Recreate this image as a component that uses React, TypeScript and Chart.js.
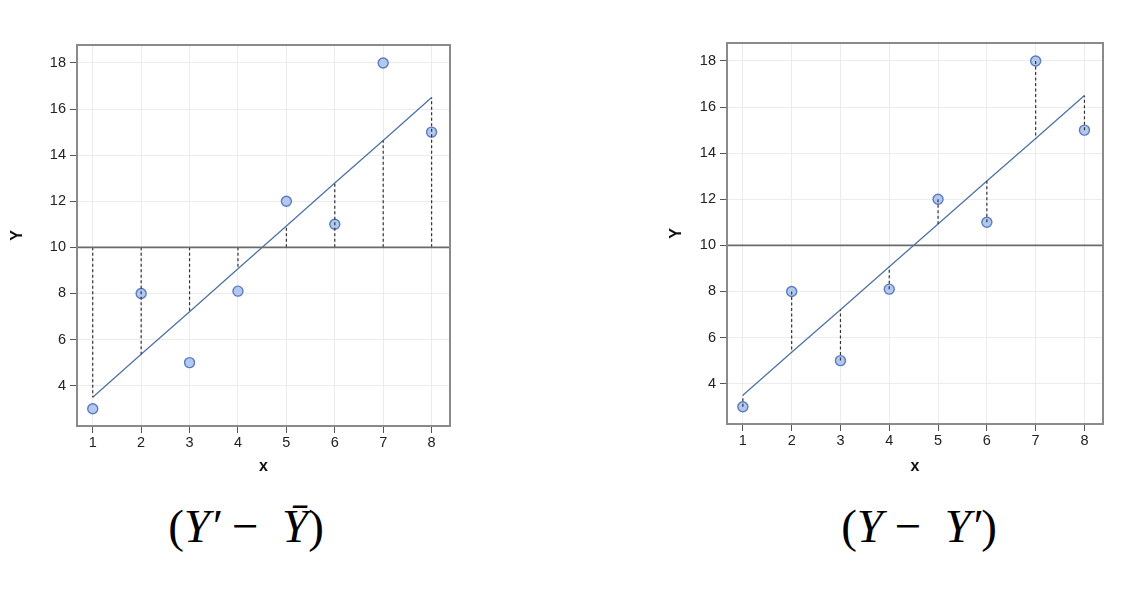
import React, { useEffect, useRef } from "react";
import { Chart, registerables } from "chart.js";

Chart.register(...registerables);

const xValues = [1, 2, 3, 4, 5, 6, 7, 8];
const yValues = [3, 8, 5, 8.1, 12, 11, 18, 15];
const fittedValues = [3.5, 5.36, 7.21, 9.07, 10.93, 12.79, 14.64, 16.5];
const meanY = 10;
const yTicks = [4, 6, 8, 10, 12, 14, 16, 18];
const leftFormula = ["(", "Y\u2032", " \u2212  ", "Y\u0304", ")"];
const rightFormula = ["(", "Y", " \u2212  ", "Y\u2032", ")"];

const X_MIN = 0.675;
const X_MAX = 8.38;
const Y_MIN = 2.25;
const Y_MAX = 18.78;

type Layout = {
  left: number;
  top: number;
  width: number;
  height: number;
  axisW: number;
  axisH: number;
  padTop: number;
  padRight: number;
  titlePad: number;
};

const frameBox = {
  id: "frameBox",
  afterDatasetsDraw(chart: any) {
    const { ctx, chartArea } = chart;
    ctx.save();
    ctx.strokeStyle = "#8a8a8a";
    ctx.lineWidth = 2;
    ctx.strokeRect(chartArea.left, chartArea.top, chartArea.right - chartArea.left, chartArea.bottom - chartArea.top);
    ctx.restore();
  },
};

const tickFont = { family: "Liberation Sans, Arial", size: 14.5 };

function Panel({ mode, layout }: { mode: "mean" | "resid"; layout: Layout }) {
  const ref = useRef<HTMLCanvasElement | null>(null);
  useEffect(() => {
    if (!ref.current) return;
    const dashData: any[] = [];
    xValues.forEach((x, i) => {
      if (mode === "mean") {
        dashData.push({ x, y: meanY }, { x, y: fittedValues[i] });
      } else {
        dashData.push({ x, y: yValues[i] }, { x, y: fittedValues[i] });
      }
      dashData.push({ x, y: null });
    });
    const chart = new Chart(ref.current, {
      type: "scatter",
      data: {
        datasets: [
          {
            type: "line",
            data: [
              { x: X_MIN, y: meanY },
              { x: X_MAX, y: meanY },
            ],
            borderColor: "#6b6b6b",
            borderWidth: 1.6,
            pointRadius: 0,
            fill: false,
          } as any,
          {
            type: "line",
            data: dashData,
            borderColor: "#333",
            borderWidth: 1.2,
            borderDash: [3, 2.5],
            pointRadius: 0,
            spanGaps: false,
            fill: false,
          } as any,
          {
            type: "line",
            data: xValues.map((x, i) => ({ x, y: fittedValues[i] })),
            borderColor: "#4f73a6",
            borderWidth: 1.3,
            pointRadius: 0,
            fill: false,
          } as any,
          {
            type: "scatter",
            data: xValues.map((x, i) => ({ x, y: yValues[i] })),
            backgroundColor: "#b3c8ef",
            borderColor: "#5a7cc0",
            borderWidth: 1.4,
            pointRadius: 5,
          } as any,
        ],
      },
      options: {
        animation: false,
        responsive: false,
        maintainAspectRatio: false,
        layout: { padding: { top: layout.padTop, right: layout.padRight, left: 0, bottom: 0 } },
        plugins: { legend: { display: false }, tooltip: { enabled: false } },
        scales: {
          x: {
            type: "linear",
            min: X_MIN,
            max: X_MAX,
            afterBuildTicks: (s: any) => {
              s.ticks = xValues.map((v) => ({ value: v }));
            },
            afterFit: (s: any) => {
              s.height = layout.axisH;
            },
            grid: { color: "#ececec", tickColor: "#555", tickLength: 7, lineWidth: 1 },
            border: { display: false },
            ticks: { color: "#222", font: tickFont, padding: 1 },
            title: {
              display: true,
              text: "x",
              color: "#111",
              font: { family: "Liberation Sans, Arial", size: 16, weight: "bold" },
              padding: { top: 0 },
            },
          },
          y: {
            type: "linear",
            min: Y_MIN,
            max: Y_MAX,
            afterBuildTicks: (s: any) => {
              s.ticks = yTicks.map((v) => ({ value: v }));
            },
            afterFit: (s: any) => {
              s.width = layout.axisW;
            },
            grid: { color: "#ececec", tickColor: "#555", tickLength: 7, lineWidth: 1 },
            border: { display: false },
            ticks: { color: "#222", font: tickFont, padding: 4 },
            title: {
              display: true,
              text: "Y",
              color: "#111",
              font: { family: "Liberation Sans, Arial", size: 16, weight: "bold" },
              padding: { top: layout.titlePad, bottom: 0 },
            },
          },
        },
      },
      plugins: [frameBox],
    } as any);
    return () => chart.destroy();
  }, [mode, layout]);
  return (
    <canvas
      ref={ref}
      width={layout.width}
      height={layout.height}
      style={{ position: "absolute", left: layout.left, top: layout.top, width: layout.width, height: layout.height }}
    />
  );
}

function Formula({ parts, left }: { parts: string[]; left: number }) {
  return (
    <div
      style={{
        position: "absolute",
        left,
        top: 494,
        width: 240,
        textAlign: "center",
        fontFamily: "'Liberation Serif', 'DejaVu Serif', serif",
        fontSize: 47,
        lineHeight: "64px",
        color: "#000",
        whiteSpace: "pre",
      }}
    >
      {parts.map((p, i) => (
        <span key={i} style={{ fontStyle: p.startsWith("Y") ? "italic" : "normal" }}>
          {p}
        </span>
      ))}
    </div>
  );
}

const leftLayout: Layout = { left: 0, top: 0, width: 470, height: 480, axisW: 77, axisH: 54, padTop: 45, padRight: 20, titlePad: 8 };
const rightLayout: Layout = { left: 650, top: 0, width: 470, height: 480, axisW: 77, axisH: 56, padTop: 43, padRight: 17, titlePad: 17 };

export default function App() {
  return (
    <div style={{ position: "fixed", left: 0, top: 0, width: 1142, height: 591, background: "#fff", overflow: "hidden" }}>
      <Panel mode="mean" layout={leftLayout} />
      <Panel mode="resid" layout={rightLayout} />
      <Formula parts={leftFormula} left={126} />
      <Formula parts={rightFormula} left={799} />
    </div>
  );
}
